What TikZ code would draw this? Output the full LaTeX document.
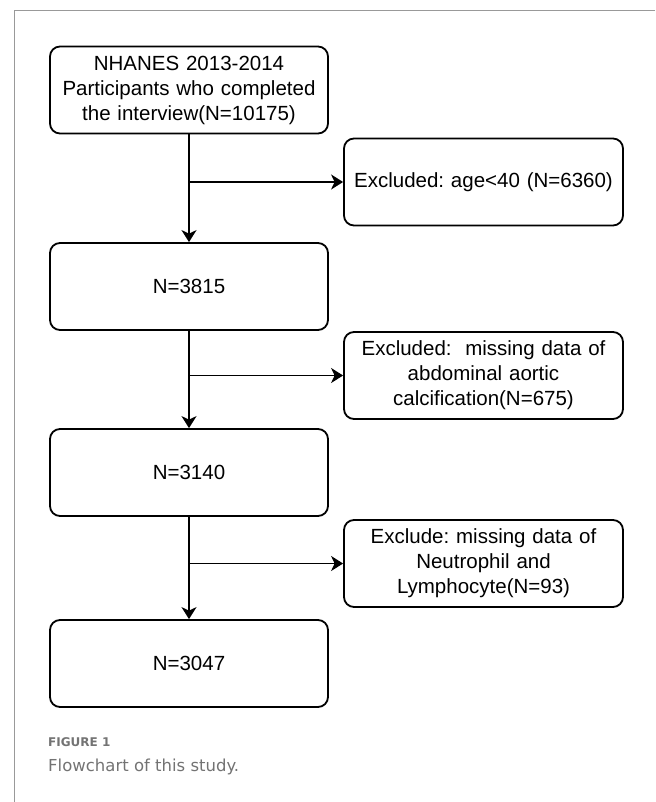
\documentclass[tikz,border=0pt]{standalone}
\usepackage{fontspec}
\setmainfont{Liberation Sans}
\newfontfamily\capfont{DejaVu Sans}
\usetikzlibrary{arrows.meta,positioning}

\begin{document}
\begin{tikzpicture}[x=1pt, y=-1pt, >={Stealth[length=12pt,width=15pt,inset=3.5pt]},
  font=\fontsize{20.5}{25}\selectfont\frenchspacing,
  stage/.style={draw, line width=1.8pt, rounded corners=10pt, align=center, text width=266pt, minimum width=278pt, minimum height=87pt, inner sep=4pt},
  excl/.style={draw, line width=1.8pt, rounded corners=10pt, align=center, text width=268pt, minimum width=279pt, minimum height=87pt, inner sep=4pt},
  arr/.style={->, line width=1.8pt},
  frame/.style={draw=gray!80, line width=1pt}]
  \useasboundingbox (0,0) rectangle (655,802);
  \draw[frame] (655,11) -- (14,11) -- (14,802);
  \node[stage] (nhanes) at (189,90)    {NHANES 2013-2014\\Participants who completed\\the interview(N=10175)};
  \node[excl]  (age)    at (483.5,182) {Excluded: age<40 (N=6360)};
  \node[stage] (n3815)  at (189,286.5) {N=3815};
  \node[excl]  (aac)    at (483.5,375.5) {Excluded:\ \ missing data of\\abdominal aortic\\calcification(N=675)};
  \node[stage] (n3140)  at (189,472.5) {N=3140};
  \node[excl]  (nlr)    at (483.5,563.5) {Exclude: missing data of\\Neutrophil and\\Lymphocyte(N=93)};
  \node[stage] (n3047)  at (189,663.5) {N=3047};
  \draw[arr] (nhanes) -- (n3815);
  \draw[arr] (nhanes.south |- age.west) -- (age.west);
  \draw[arr] (n3815) -- (n3140);
  \draw[arr] (n3815.south |- aac.west) -- (aac.west);
  \draw[arr] (n3140) -- (n3047);
  \draw[arr] (n3140.south |- nlr.west) -- (nlr.west);
  % caption
  \node[anchor=west, inner sep=0pt, text=gray!90!black, font=\capfont\bfseries\fontsize{12}{14}\selectfont] (fig) at (48,742) {FIGURE 1};
  \node[anchor=west, inner sep=0pt, text=gray!90!black, font=\capfont\fontsize{16.5}{19}\selectfont] (cap) at (48,767) {Flowchart of this study.};
\end{tikzpicture}
\end{document}
